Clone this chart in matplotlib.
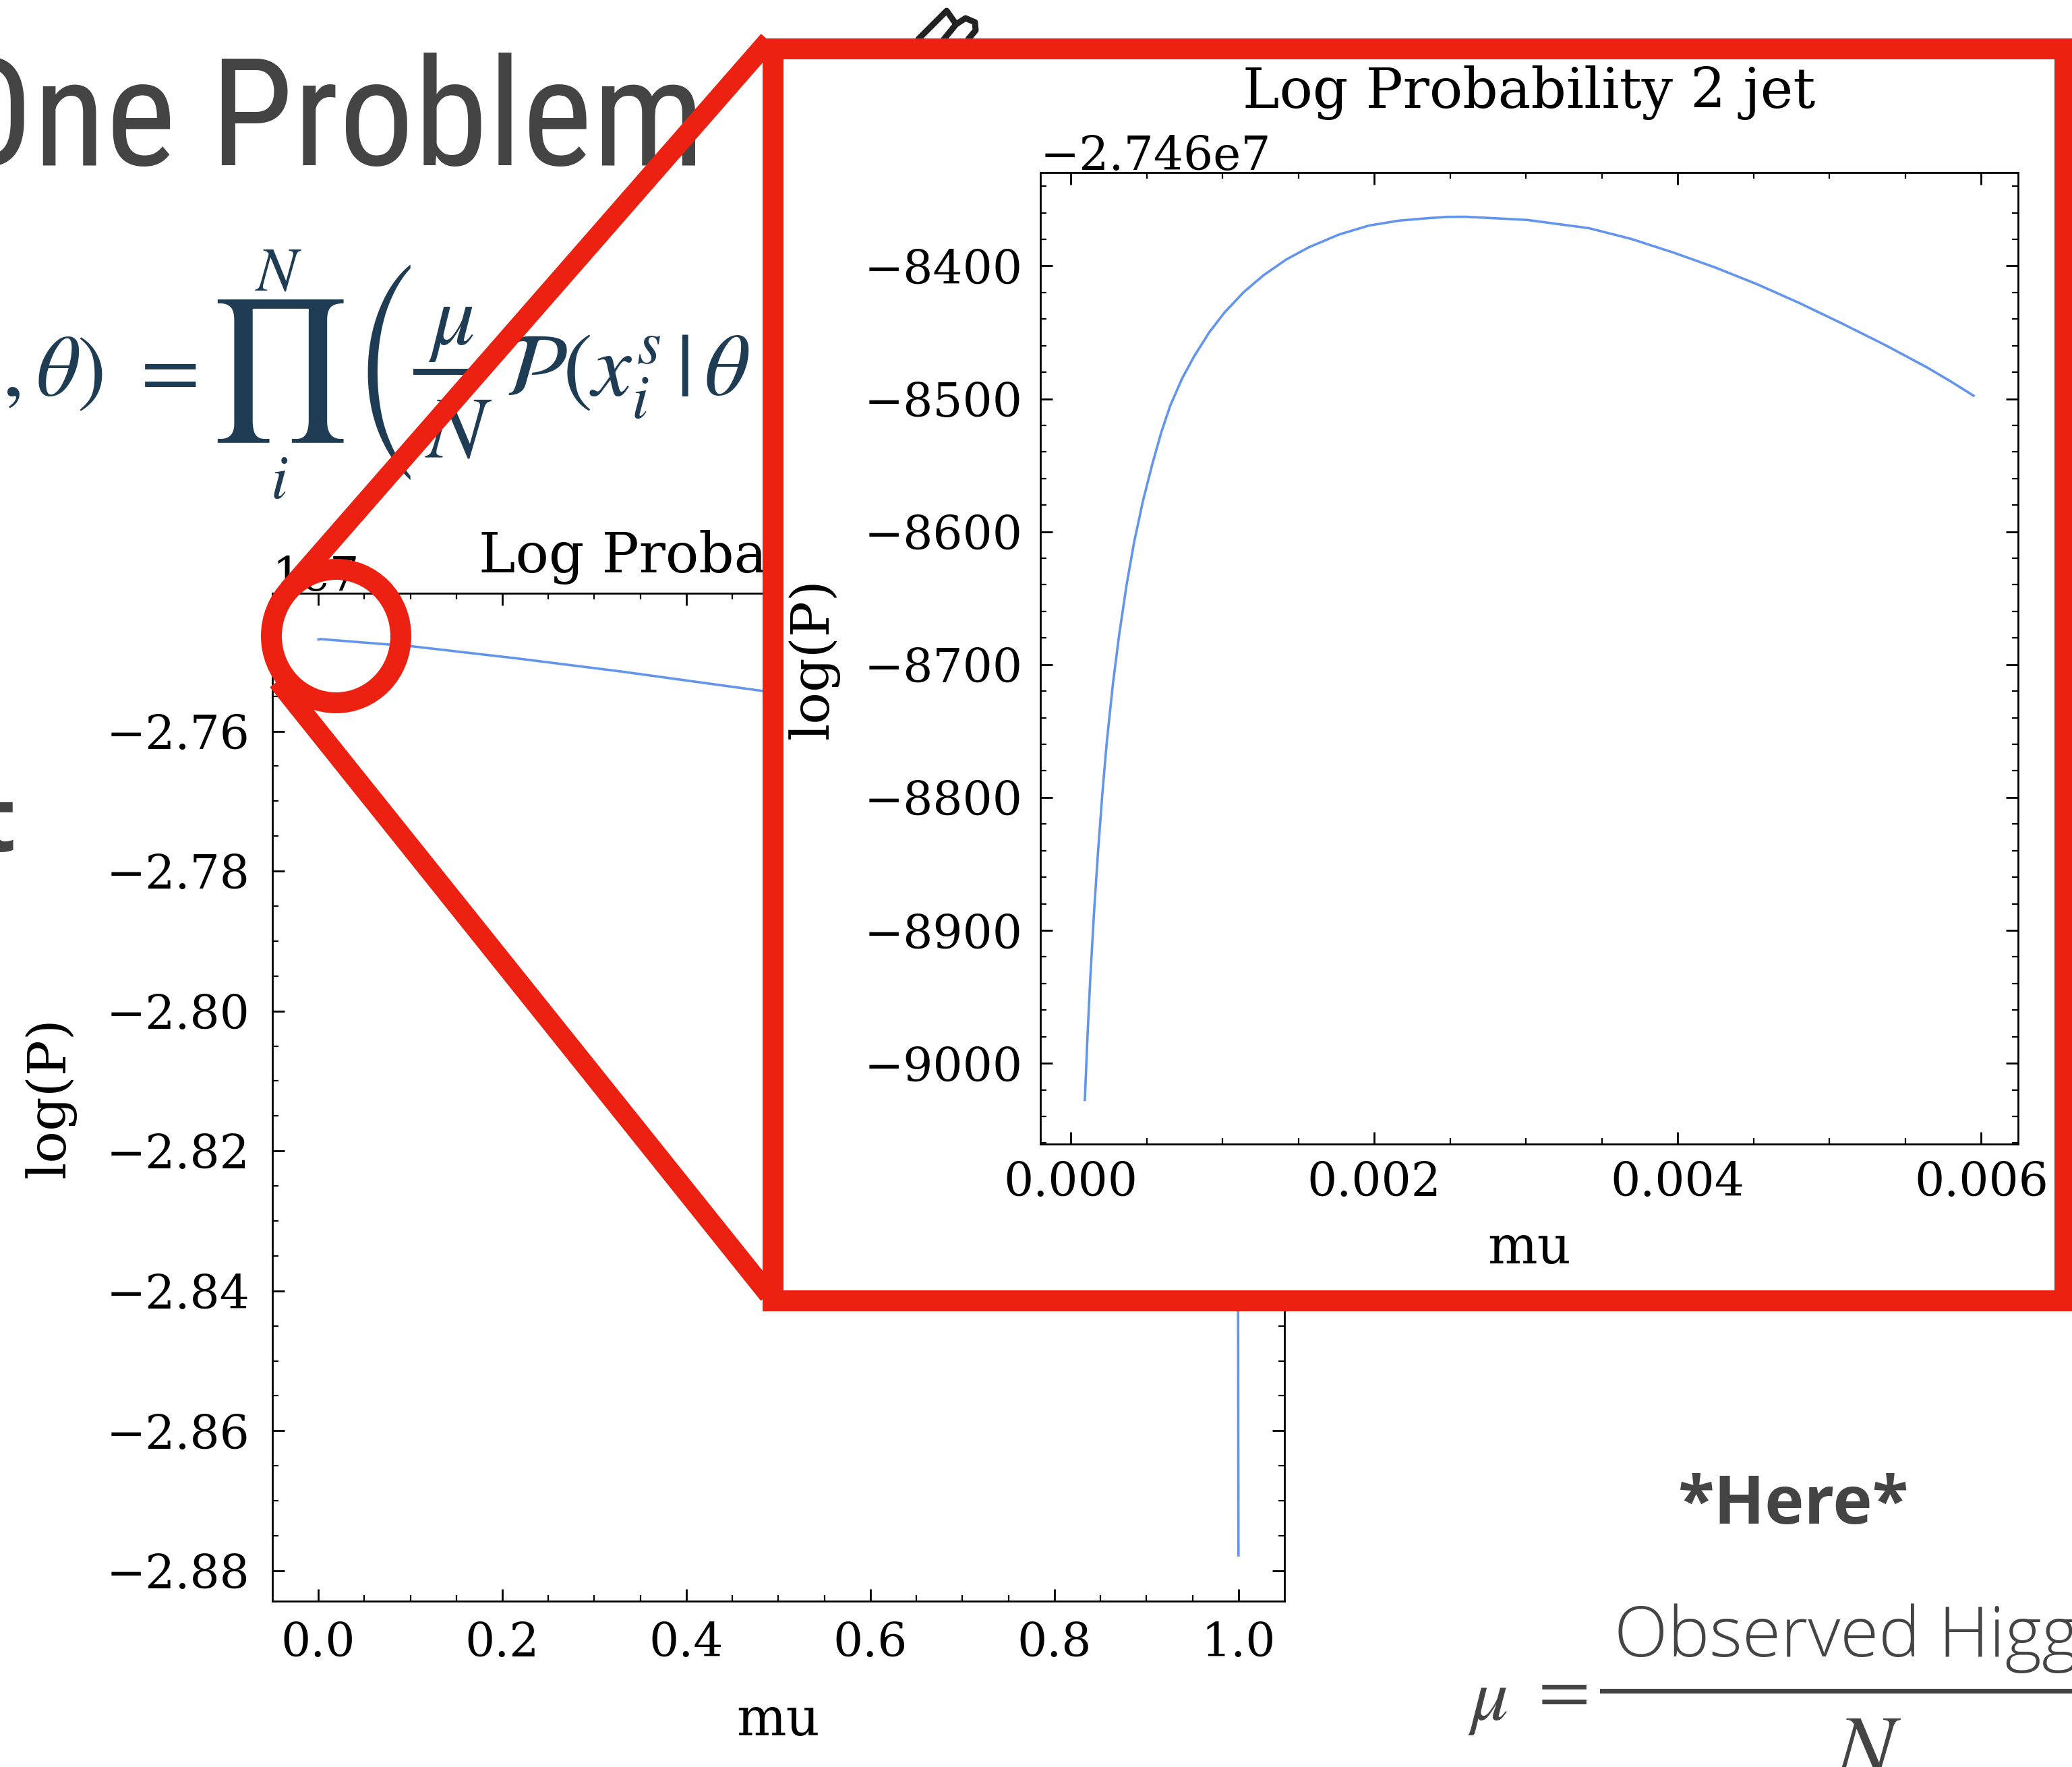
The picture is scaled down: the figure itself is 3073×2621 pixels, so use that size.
import matplotlib
matplotlib.use('Agg')
import matplotlib.pyplot as plt
import numpy as np
from matplotlib import font_manager
from matplotlib.font_manager import FontProperties
from matplotlib.lines import Line2D
from matplotlib.patches import Rectangle, Ellipse
from matplotlib.ticker import MultipleLocator, AutoMinorLocator, ScalarFormatter

# full scan of mu, log(P) in units of 1e7 (part behind the zoom box is estimated)
mu_full = [0.0001, 0.0026, 0.104, 0.216, 0.328, 0.48, 0.6, 0.7, 0.8, 0.9,
           0.95, 0.99, 0.999, 1.0]
logp_full_e7 = [-2.746903, -2.7468363, -2.74790, -2.74960, -2.75145, -2.75420,
                -2.7567, -2.7600, -2.7640, -2.7692, -2.7732, -2.7795, -2.7870,
                -2.8778]

# zoom on small mu: mu in units of 1e-3, log(P) relative to the offset -2.746e7
mu_zoom_e3 = [0.093, 0.111, 0.129, 0.154, 0.179, 0.2085, 0.238, 0.278, 0.318,
              0.3675, 0.417, 0.4765, 0.536, 0.5955, 0.655, 0.7345, 0.814,
              0.9135, 1.013, 1.142, 1.271, 1.42, 1.569, 1.7675, 1.966, 2.1645,
              2.363, 2.48, 2.6, 3.0075, 3.415, 3.694, 3.973, 4.25, 4.528,
              4.807, 5.086, 5.365, 5.645, 5.7975, 5.95]
logp_zoom_rel = [-9027.6, -8978.7, -8936.0, -8885.8, -8842.6, -8797.1, -8758.0,
                 -8714.7, -8678.7, -8640.5, -8608.4, -8576.6, -8549.9, -8525.7,
                 -8505.4, -8484.6, -8467.9, -8449.9, -8435.1, -8419.5, -8407.0,
                 -8395.2, -8386.0, -8376.4, -8369.6, -8365.9, -8364.0, -8363.1,
                 -8363.0, -8365.4, -8371.6, -8379.7, -8390.0, -8401.3, -8414.0,
                 -8428.2, -8443.5, -8459.4, -8476.5, -8486.8, -8497.7]
zoom_offset = -2.746e7

W, H = 3073, 2621
PT = 72 / 100.0  # points per pixel at dpi 100

line_color = '#6495ED'
red = '#ec2111'
slide_gray = '#444444'
formula_blue = '#1f3c55'

plt.rcParams['font.family'] = 'DejaVu Serif'
plt.rcParams['mathtext.fontset'] = 'stix'
plt.rcParams['xtick.labelsize'] = 50
plt.rcParams['ytick.labelsize'] = 50


def pick_narrow_font():
    prefs = ['Liberation Sans Narrow', 'Open Sans Condensed', 'Roboto Condensed',
             'Noto Sans Condensed', 'Noto Sans SemiCondensed', 'DejaVu Sans Condensed']
    found = {}
    for f in font_manager.fontManager.ttflist:
        n = f.name
        narrowish = ('Narrow' in n or 'Condensed' in n or 'condensed' in str(f.stretch))
        if not narrowish or 'Mono' in n or 'Serif' in n or f.style != 'normal':
            continue
        if f.weight not in (300, 400, 'light', 'normal', 'regular'):
            continue
        found.setdefault(n, f.fname)
    for p in prefs:
        if p in found:
            return FontProperties(fname=found[p])
    if found:
        return FontProperties(fname=sorted(found.values())[0])
    return FontProperties(family='Liberation Sans')


def fx(x):
    return x / W


def fy(y):
    return 1 - y / H


def style(a, xpad, ypad):
    a.xaxis.set_minor_locator(AutoMinorLocator())
    a.yaxis.set_minor_locator(AutoMinorLocator())
    a.tick_params(which='both', direction='in', top=True, right=True)
    a.tick_params(which='major', length=13, width=2)
    a.tick_params(which='minor', length=6.5, width=1.6)
    a.tick_params(axis='x', which='major', pad=xpad)
    a.tick_params(axis='y', which='major', pad=ypad)
    for s in a.spines.values():
        s.set_linewidth(2)


fig = plt.figure(figsize=(W / 100, H / 100), dpi=100)
renderer = fig.canvas.get_renderer()

# ---- slide background text ----
title_fp = pick_narrow_font()
title_fp.set_size(100)
head = fig.text(fx(1046), fy(245), 'One Problem', ha='right', va='baseline',
                fontproperties=title_fp, color=slide_gray, zorder=0.5)
w100 = head.get_window_extent(renderer).width
title_fp.set_size(min(100 * 1130 / w100, 166))
head.set_fontproperties(title_fp)

fig.text(fx(153), fy(587), r'$,\theta)$', ha='right', va='baseline',
         fontsize=92, color=formula_blue, zorder=0.5)
fig.text(fx(241), fy(552), r'$=$', ha='center', va='center',
         fontsize=92, color=formula_blue, zorder=0.5)
fig.text(fx(411), fy(551), r'$\prod$', ha='center', va='center',
         fontsize=150, color=formula_blue, zorder=0.5)
fig.text(fx(413), fy(405), r'$N$', ha='center', va='center',
         fontsize=66, color=formula_blue, zorder=0.5)
fig.text(fx(414), fy(714), r'$i$', ha='center', va='center',
         fontsize=66, color=formula_blue, zorder=0.5)
paren = fig.text(fx(570), fy(552), '(', ha='center', va='center', family='STIXSizeThreeSym',
                 fontsize=100, color=formula_blue, zorder=0.5)
ph = paren.get_window_extent(renderer).height
paren.set_fontsize(100 * 320 / max(ph, 1.0))
fig.text(fx(669), fy(477), r'$\mu$', ha='center', va='center',
         fontsize=92, color=formula_blue, zorder=0.5)
fig.add_artist(Line2D([fx(617), fx(708)], [fy(551), fy(551)], transform=fig.transFigure,
                      color=formula_blue, lw=9 * PT, zorder=0.5))
fig.text(fx(680), fy(642), r'$N$', ha='center', va='center',
         fontsize=95, color=formula_blue, zorder=0.5)
fig.text(fx(746), fy(587), r'$\mathcal{P}(x_i^s\,|\,\theta$', ha='left', va='baseline',
         fontsize=95, color=formula_blue, zorder=0.5)

fig.text(fx(24), fy(1263), 't', ha='right', va='baseline', fontsize=96,
         family='Open Sans', weight='bold', color=slide_gray, zorder=0.5)

fig.text(fx(2660), fy(2260), '*Here*', ha='center', va='baseline', fontsize=71,
         family='Open Sans', weight='bold', color=slide_gray, zorder=0.5)
fig.text(fx(2207), fy(2522), r'$\mu$', ha='center', va='center', fontsize=80,
         color=slide_gray, zorder=0.5)
fig.text(fx(2309), fy(2508), r'$=$', ha='center', va='center', fontsize=80,
         color=slide_gray, zorder=0.5)
fig.add_artist(Line2D([fx(2376), fx(3090)], [fy(2508), fy(2508)],
                      transform=fig.transFigure, color=slide_gray, lw=7 * PT, zorder=0.5))
fig.text(fx(2394), fy(2457), 'Observed Higgs events', ha='left', va='baseline',
         fontsize=75, family='Open Sans', weight='light', color=slide_gray, zorder=0.5)
fig.text(fx(2770), fy(2533), r'$N$', ha='center', va='top', fontsize=95,
         color=slide_gray, zorder=0.5)

# little pen scribble peeking above the box
icon_x = [1362, 1404, 1418, 1432, 1446, 1447, 1436]
icon_y = [58, 16, 36, 27, 33, 45, 58]
fig.add_artist(Line2D([fx(v) for v in icon_x], [fy(v) for v in icon_y],
                      transform=fig.transFigure, color='#222222', lw=9 * PT,
                      solid_capstyle='round', solid_joinstyle='round', zorder=0.5))
fig.add_artist(Line2D([fx(1400), fx(1418)], [fy(58), fy(36)],
                      transform=fig.transFigure, color='#222222', lw=9 * PT,
                      solid_capstyle='round', zorder=0.5))

# ---- main plot ----
ax = fig.add_axes([fx(404), fy(2375), 1501 / W, 1495 / H], zorder=1)
ax.plot(np.array(mu_full), np.array(logp_full_e7) * 1e7, color=line_color, lw=2.6)
ax.xaxis.set_major_locator(MultipleLocator(0.2))
ax.yaxis.set_major_locator(MultipleLocator(0.02e7))
ax.yaxis.set_major_formatter(ScalarFormatter(useOffset=False))
style(ax, xpad=21, ypad=24)
ax.set_title('Log Probability 2 jet', fontsize=59, pad=22, y=1.0, x=0.487)
ax.set_xlabel('mu', fontsize=56)
ax.set_ylabel('log(P)', fontsize=57)
ax.xaxis.set_label_coords(0.5, -0.093)
ax.yaxis.set_label_coords(-0.194, 0.5)

# ---- zoom markers ----
fig.add_artist(Line2D([fx(1140), fx(428)], [fy(60), fy(875)], transform=fig.transFigure,
                      color=red, lw=30 * PT, solid_capstyle='butt', zorder=2))
fig.add_artist(Line2D([fx(412), fx(1140)], [fy(1010), fy(1920)], transform=fig.transFigure,
                      color=red, lw=30 * PT, solid_capstyle='butt', zorder=2))
fig.add_artist(Ellipse((fx(498.5), fy(943.5)), 192 / W, 198 / H, transform=fig.transFigure,
                       fill=False, edgecolor=red, lw=31 * PT, zorder=2))
fig.add_artist(Rectangle((fx(1146), fy(1929)), (3062 - 1146) / W, (1929 - 72) / H,
                         transform=fig.transFigure, facecolor='white', edgecolor=red,
                         lw=31 * PT, zorder=3))

# ---- zoomed plot ----
axi = fig.add_axes([fx(1543), fy(1697), 1450 / W, 1441 / H], zorder=4)
axi.plot(np.array(mu_zoom_e3) * 1e-3, zoom_offset + np.array(logp_zoom_rel),
         color=line_color, lw=2.6)
axi.xaxis.set_major_locator(MultipleLocator(0.002))
axi.yaxis.set_major_locator(MultipleLocator(100))
axi.yaxis.set_major_formatter(ScalarFormatter(useOffset=zoom_offset))
style(axi, xpad=18, ypad=19)
axi.set_title('Log Probability 2 jet', fontsize=59, pad=69, y=1.0)
axi.set_xlabel('mu', fontsize=56)
axi.set_ylabel('log(P)', fontsize=57)
axi.xaxis.set_label_coords(0.5, -0.081)
axi.yaxis.set_label_coords(-0.2055, 0.5)

fig.savefig('out.png', dpi=100)
